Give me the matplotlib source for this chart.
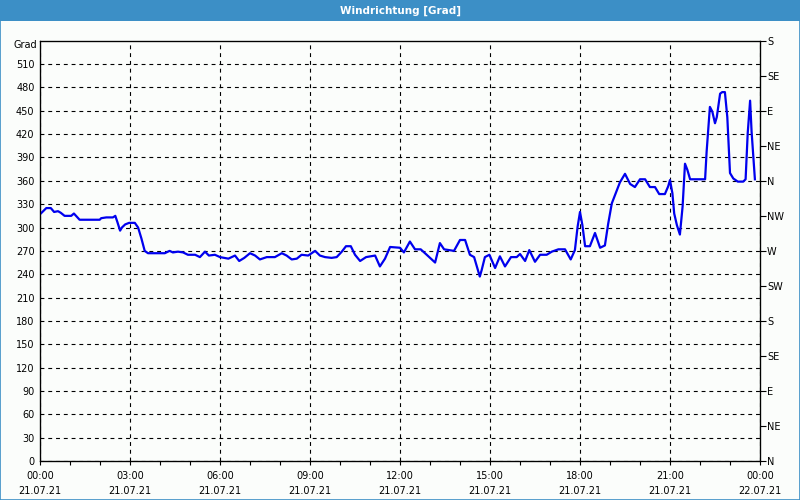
import matplotlib
matplotlib.use("Agg")
import matplotlib.pyplot as plt
from matplotlib.patches import Rectangle

# wind direction, 21.07.21 (hours after midnight -> degrees)
hours = [0.0, 0.21, 0.36, 0.47, 0.6, 0.69, 0.82, 1.04, 1.13, 1.32, 1.99, 2.04, 2.21, 2.43, 2.51,
         2.58, 2.67, 2.73, 2.84, 2.97, 3.16, 3.27, 3.38, 3.49, 3.6, 4.16, 4.32, 4.43, 4.6, 4.77, 4.93,
         5.17, 5.33, 5.5, 5.63, 5.83, 6.0, 6.28, 6.5, 6.64, 6.81, 7.0, 7.17, 7.33, 7.56, 7.83, 8.06,
         8.22, 8.39, 8.56, 8.72, 8.94, 9.17, 9.33, 9.5, 9.72,
         9.89, 10.06, 10.2, 10.36, 10.5, 10.67, 10.87, 11.17, 11.33, 11.5, 11.67, 12.0, 12.13, 12.33,
         12.5, 12.69, 12.89, 13.17, 13.33, 13.47, 13.8, 14.0, 14.17, 14.33, 14.47,
         14.66, 14.72, 14.83, 14.98, 15.17, 15.33, 15.5, 15.7, 15.89, 16.0, 16.17, 16.31, 16.5, 16.67,
         16.89, 17.06, 17.28, 17.5, 17.69, 17.83, 17.92, 18.0, 18.08, 18.17, 18.33, 18.5, 18.67, 18.83,
         18.94, 19.06, 19.19, 19.33,
         19.5, 19.67, 19.83, 20.0, 20.17, 20.33, 20.5, 20.64, 20.83, 20.94, 21.0, 21.08, 21.14, 21.23,
         21.33, 21.42, 21.5, 21.58, 21.67, 22.17, 22.22, 22.33, 22.41, 22.5, 22.56, 22.67, 22.74, 22.83,
         22.91, 23.0, 23.11, 23.26, 23.44, 23.52, 23.59, 23.67, 23.72, 23.78, 23.83]
grad = [317, 325, 325, 320, 321, 319, 315, 315, 318, 310, 310, 312, 313, 313, 315,
        307, 296, 300, 304, 306, 306, 300, 286, 270, 267, 267, 270, 268, 269, 268, 265,
        265, 262, 269, 264, 265, 262, 260, 264, 257, 261, 267, 264, 259, 262, 262, 267,
        264, 259, 260, 265, 264, 270, 264, 262, 261,
        262, 269, 276, 276, 265, 257, 262, 264, 250, 260, 275, 274, 268, 282,
        272, 272, 265, 255, 280, 272, 270, 284, 284, 265, 262,
        237, 245, 262, 265, 248, 263, 250, 262, 262, 266, 257, 271, 256, 265,
        265, 269, 272, 272, 259, 271, 301, 320, 303, 276, 276, 293, 274, 277,
        305, 331, 344, 358,
        369, 356, 352, 362, 362, 352, 352, 343, 343, 353, 361, 344, 318, 303,
        291, 327, 382, 374, 362, 362, 397, 455, 449, 434, 442, 472, 474, 474,
        442, 370, 363, 359, 359, 362, 421, 463, 423, 389, 362]

tick_hours = [0, 3, 6, 9, 12, 15, 18, 21, 24]
tick_labels = ["00:00\n21.07.21", "03:00\n21.07.21", "06:00\n21.07.21", "09:00\n21.07.21",
               "12:00\n21.07.21", "15:00\n21.07.21", "18:00\n21.07.21", "21:00\n21.07.21",
               "00:00\n22.07.21"]
grad_ticks = list(range(0, 511, 30))
compass_ticks = list(range(0, 541, 45))
compass_labels = ["N", "NE", "E", "SE", "S", "SW", "W", "NW", "N", "NE", "E", "SE", "S"]

bg = "#fbfdfb"
bar_blue = "#3c8fc6"
plt.rcParams["font.family"] = ["DejaVu Sans"]
plt.rcParams["font.size"] = 7

fig = plt.figure(figsize=(8, 5), dpi=100, facecolor=bg)

# title bar and window border
fig.add_artist(Rectangle((0, 0.958), 1, 0.042, transform=fig.transFigure,
                         facecolor=bar_blue, edgecolor="none"))
fig.add_artist(Rectangle((0.0006, 0.001), 0.9988, 0.998, transform=fig.transFigure,
                         facecolor="none", edgecolor=bar_blue, lw=1.2))
fig.text(0.5, 0.979, "Windrichtung [Grad]", color="white", fontsize=7.5,
         fontweight="bold", ha="center", va="center")

ax = fig.add_axes([0.05, 0.078, 0.90, 0.8405])
ax.set_facecolor(bg)
ax.plot(hours, grad, color="#0000ee", lw=1.6, zorder=3)

ax.set_xlim(0, 24)
ax.set_ylim(0, 540)
ax.set_xticks(tick_hours)
ax.set_xticklabels(tick_labels, linespacing=1.6)
ax.set_xticks(range(0, 25), minor=True)
ax.set_yticks(grad_ticks)
ax.tick_params(axis="x", which="both", direction="out", length=3, width=0.8, pad=4)
ax.tick_params(axis="y", length=0, pad=4)
ax.grid(True, color="black", lw=0.8, linestyle=(0, (3.5, 3.5)))
ax.set_axisbelow(True)
for s in ax.spines.values():
    s.set_linewidth(0.9)
fig.text(0.046, 0.909, "Grad", ha="right", va="center")

ax2 = ax.twinx()
ax2.set_ylim(0, 540)
ax2.set_yticks(compass_ticks)
ax2.set_yticklabels(compass_labels)
ax2.tick_params(axis="y", direction="out", length=4, width=0.8, pad=1)

fig.savefig("out.png", dpi=100, facecolor=bg)
